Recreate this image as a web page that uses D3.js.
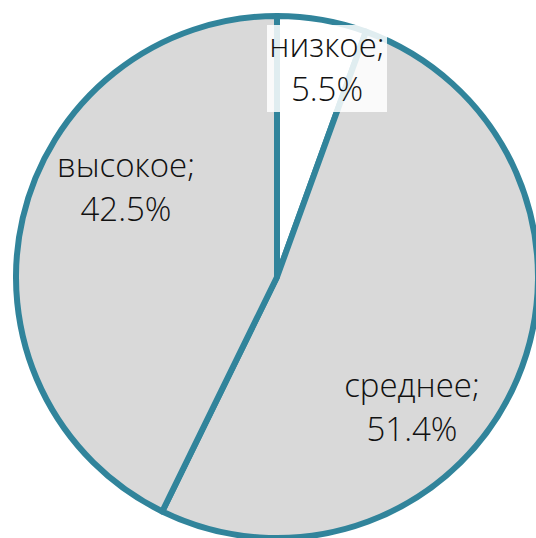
<!DOCTYPE html>
<html>
<head>
<meta charset="utf-8">
<script src="https://cdn.jsdelivr.net/npm/d3@7"></script>
<style>
  body { margin: 0; background: #fff; }
  svg { display: block; }
</style>
</head>
<body>
<script>
var categories = ["низкое", "среднее", "высокое"];
var values = [5.5, 51.4, 42.5];
var labels = ["5.5%", "51.4%", "42.5%"];
var fills = ["#FFFFFF", "#D9D9D9", "#D9D9D9"];

var width = 536;
var height = 538;
var cx = 277, cy = 277, radius = 261;

var svg = d3.select("body")
    .append("svg")
    .attr("width", width)
    .attr("height", height);

var g = svg.append("g")
    .attr("transform", "translate(" + cx + "," + cy + ")");

var data = categories.map(function (c, i) {
    return { name: c, value: values[i], label: labels[i], fill: fills[i] };
});

var pie = d3.pie()
    .sort(null)
    .value(function (d) { return d.value; });

var arc = d3.arc()
    .innerRadius(0)
    .outerRadius(radius);

var arcs = pie(data);

g.selectAll("path")
    .data(arcs)
    .enter()
    .append("path")
    .attr("d", arc)
    .attr("fill", function (d) { return d.data.fill; })
    .attr("stroke", "#31849B")
    .attr("stroke-width", 6)
    .attr("stroke-linejoin", "round");

// label positions (relative to centre), as placed in the original
var labelPos = [[50, -220], [135, 120], [-151, -100]];
var lineGap = 44;

var lbl = g.selectAll(".lbl")
    .data(arcs)
    .enter()
    .append("g")
    .attr("class", "lbl")
    .attr("transform", function (d, i) {
        return "translate(" + labelPos[i][0] + "," + labelPos[i][1] + ")";
    });

// white box behind the small slice label
lbl.filter(function (d, i) { return i === 0; })
    .append("rect")
    .attr("x", -60)
    .attr("y", -32)
    .attr("width", 120)
    .attr("height", 87)
    .attr("fill", "#fff")
    .attr("fill-opacity", 0.85);

var txt = lbl.append("text")
    .attr("text-anchor", "middle")
    .style("font-family", "'Open Sans', sans-serif")
    .style("font-weight", 300)
    .style("font-size", "33px")
    .attr("fill", "#111");

txt.append("tspan")
    .attr("x", 0)
    .attr("y", 0)
    .text(function (d) { return d.data.name + ";"; });

txt.append("tspan")
    .attr("x", 0)
    .attr("y", lineGap)
    .text(function (d) { return d.data.label; });
</script>
</body>
</html>
